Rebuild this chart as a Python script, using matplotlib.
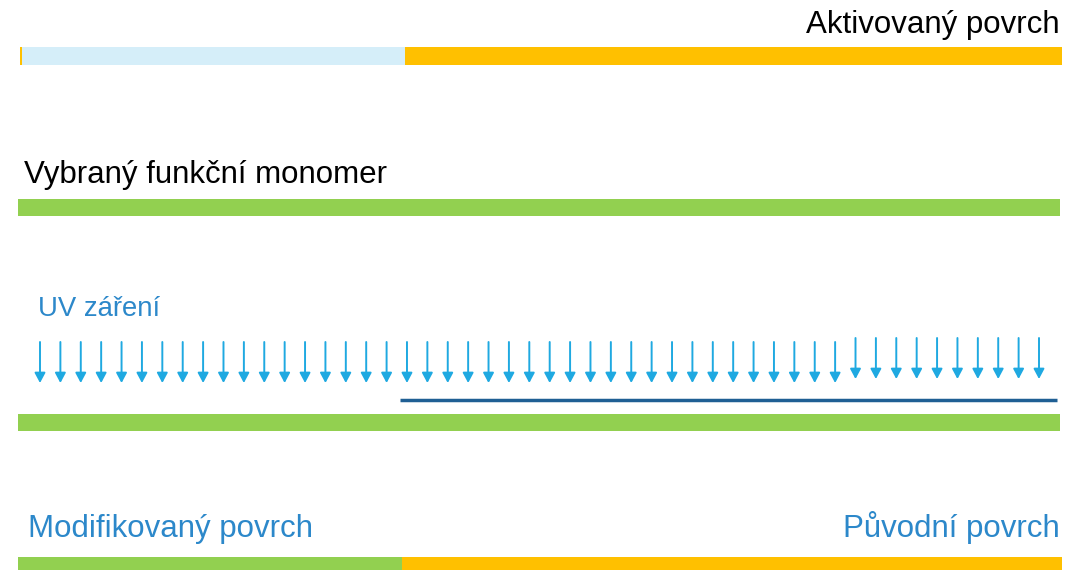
import numpy as np
import matplotlib
matplotlib.use('Agg')
from matplotlib import pyplot as plt

# barvy
GREEN = '#92D050'
YELLOW = '#FFC000'
LIGHT = '#D5EEF9'
ARROW = '#1FA9E1'
DARK = '#1F5F94'
TEXT_BLUE = '#2C88CA'

# popisky
labels_black = ['Aktivovaný povrch', 'Vybraný funkční monomer']
labels_blue = ['UV záření', 'Modifikovaný povrch', 'Původní povrch']

# vrstvy: [(x_start, x_end, barva), ...]
layer_top = [(20, 22, YELLOW), (22, 405, LIGHT), (405, 1062, YELLOW)]
layer_monomer = [(18, 1060, GREEN)]
layer_uv = [(18, 1060, GREEN)]
layer_bottom = [(18, 402, GREEN), (402, 1062, YELLOW)]

n_arrows = 50
arrow_x0, arrow_x1 = 40, 1039

plt.rcParams['font.family'] = ['Liberation Sans', 'DejaVu Sans']

fig = plt.figure(figsize=(10.91, 5.70), dpi=100)
ax = fig.add_axes([0, 0, 1, 1])
ax.set_xlim(0, 1091)
ax.set_ylim(570, 0)
ax.axis('off')


def draw_layer(segments, y, h):
    for x0, x1, c in segments:
        ax.add_patch(plt.Rectangle((x0, y), x1 - x0, h, color=c, lw=0))


draw_layer(layer_top, 47, 18)
draw_layer(layer_monomer, 199, 17)
draw_layer(layer_uv, 414, 17)
draw_layer(layer_bottom, 557, 13)

# texty
ax.text(1060, 33, labels_black[0], ha='right', va='baseline', fontsize=22.5, color='black')
ax.text(24, 183, labels_black[1], ha='left', va='baseline', fontsize=22.5, color='black')
ax.text(38, 316, labels_blue[0], ha='left', va='baseline', fontsize=19.8, color=TEXT_BLUE)
ax.text(28, 537, labels_blue[1], ha='left', va='baseline', fontsize=22.5, color=TEXT_BLUE)
ax.text(1060, 537, labels_blue[2], ha='right', va='baseline', fontsize=22.5, color=TEXT_BLUE)

# UV sipky
for i, x in enumerate(np.linspace(arrow_x0, arrow_x1, n_arrows)):
    top = 342 if x < 840 else 338
    ax.annotate('', xy=(x, top + 41), xytext=(x, top),
                arrowprops=dict(arrowstyle='-|>,head_width=0.32,head_length=0.6',
                                color=ARROW, lw=1.4, shrinkA=0, shrinkB=0))

# tmava cara
ax.plot([400, 1057], [399.5, 399.5], color=DARK, lw=2.5, solid_capstyle='butt')

fig.savefig('out.png', dpi=100)
